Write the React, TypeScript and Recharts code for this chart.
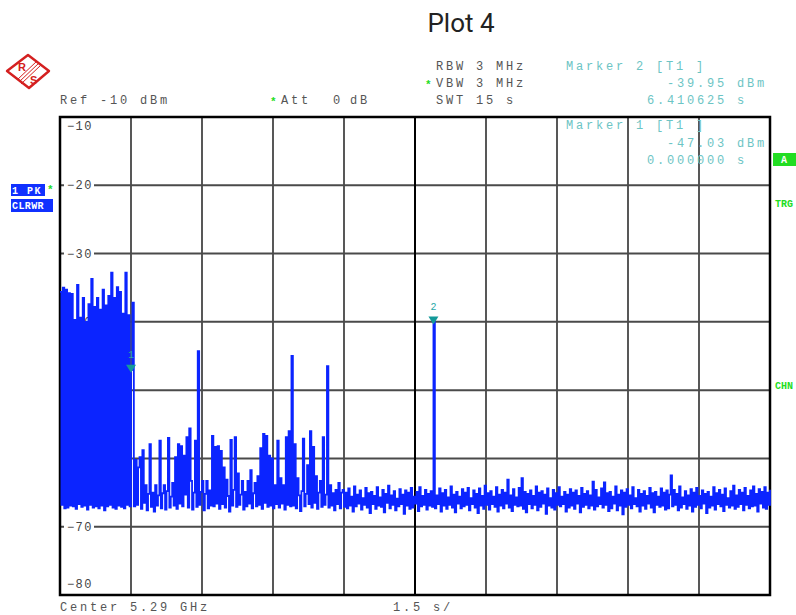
import React from "react";
import {
  ComposedChart,
  Line,
  Scatter,
  XAxis,
  YAxis,
  CartesianGrid,
  ReferenceLine,
  ReferenceArea,
} from "recharts";

// sweep: 501 points over 15 s (0.03 s per point)
const SWEEP_POINTS = 500;
const timeTicks = [0, 50, 100, 150, 200, 250, 300, 350, 400, 450, 500];
const levelTicks = [-80, -70, -60, -50, -40, -30, -20, -10];

// 0 .. 1.5 s : burst
const burstTrace = [
  -35.6, -66.8, -35.0, -67.3, -35.3, -67.2, -35.8, -66.9, -35.9, -67.0,
  -39.7, -67.4, -34.6, -66.7, -39.4, -67.1, -36.5, -66.9, -40.0, -67.5,
  -37.4, -66.8, -33.7, -67.2, -37.8, -67.0, -36.5, -67.3, -38.2, -66.9,
  -35.3, -67.6, -37.6, -67.0, -36.2, -66.8, -32.8, -67.2, -36.5, -67.4,
  -34.9, -66.9, -35.6, -67.1, -38.8, -67.3, -32.8, -66.8, -39.0, -67.0,
  -47.03, -37.2,
];

// 1.56 .. 6 s : spurs
const spurTrace = [
  -67.0, -60.2, -66.8, -61.3, -59.8, -67.4, -58.8, -66.5, -63.9, -67.6,
  -65.2, -57.9, -67.1, -65.0, -67.8, -63.9, -66.9, -65.4, -57.4, -67.3,
  -65.1, -63.9, -67.5, -64.8, -57.0, -67.2, -65.6, -63.6, -66.9, -59.8,
  -67.4, -57.9, -66.6, -58.2, -67.0, -59.6, -65.3, -56.9, -67.2, -55.6,
  -63.3, -67.5, -65.0, -57.4, -67.1, -44.3, -66.8, -64.9, -63.3, -67.6,
  -65.2, -63.3, -67.3, -64.7, -66.9, -56.7, -67.0, -58.3, -66.6, -58.2,
  -67.4, -58.9, -66.7, -61.3, -67.2, -63.1, -65.5, -67.8, -57.3, -66.9,
  -64.6, -56.9, -67.1, -62.2, -66.8, -65.3, -63.3, -67.5, -64.9, -67.0,
  -63.3, -66.6, -61.7, -67.3, -65.1, -63.6, -67.0, -62.6, -66.8, -58.5,
  -67.4, -56.4, -66.5, -56.7, -67.1, -59.6, -66.9, -60.0, -67.3, -63.9,
  -66.7, -57.4, -67.2, -62.9, -66.6, -63.9, -67.5, -56.9, -66.8, -56.0,
  -67.0, -45.0, -66.9, -57.9, -67.3, -62.9, -65.4, -67.7, -64.8, -57.1,
  -67.0, -65.2, -61.0, -66.7, -56.0, -67.2, -58.3, -66.5, -62.6, -67.4,
  -65.0, -63.3, -67.1, -56.9, -66.8, -65.3, -46.5, -67.2, -63.9, -66.9,
  -65.1, -67.6, -64.6, -66.7, -63.6, -67.3, -65.0, -64.6, -67.1,
];

// 6.03 .. 15 s : noise floor + marker 2 line
const floorTrace = [
  -65.0, -67.3, -64.4, -66.9, -65.6, -67.8, -64.1, -67.0, -65.3, -66.6,
  -64.7, -67.5, -65.8, -66.8, -64.3, -67.2, -65.1, -68.0, -64.9, -66.7,
  -65.5, -67.4, -64.2, -66.9, -65.7, -67.1, -64.6, -67.9, -65.2, -66.5,
  -64.0, -67.3, -65.4, -66.8, -64.8, -67.6, -65.9, -67.0, -64.5, -66.7,
  -65.3, -68.1, -64.7, -66.9, -65.0, -67.4, -64.3, -67.2, -65.6, -66.6,
  -64.9, -67.7, -64.2, -67.0, -65.5, -66.8, -64.6, -67.5, -65.2, -66.9,
  -64.8, -67.1, -39.95, -67.3, -65.4, -66.7, -64.4, -67.8, -65.1, -66.9,
  -64.6, -67.4, -65.7, -66.8, -64.1, -67.2, -65.3, -67.9, -64.9, -66.6,
  -65.6, -67.3, -64.5, -67.0, -65.0, -66.8, -64.3, -67.6, -65.8, -66.7,
  -64.7, -67.2, -65.2, -68.0, -64.4, -66.9, -65.5, -67.4, -64.0, -66.8,
  -65.1, -67.5, -64.8, -66.7, -65.6, -67.1, -64.2, -67.8, -65.3, -66.9,
  -64.6, -67.3, -65.0, -66.6, -63.1, -67.2, -65.4, -67.7, -64.5, -66.8,
  -65.7, -67.0, -64.3, -66.9, -62.9, -67.4, -64.9, -67.9, -65.2, -66.7,
  -64.7, -67.3, -65.5, -66.8, -64.1, -67.6, -65.0, -67.1, -64.8, -66.6,
  -65.3, -68.1, -64.4, -66.9, -65.8, -67.2, -64.6, -67.5, -65.1, -66.8,
  -64.2, -67.0, -65.6, -66.7, -64.9, -67.8, -65.3, -67.2, -64.5, -66.9,
  -65.0, -67.4, -64.7, -66.6, -65.5, -67.9, -64.3, -67.1, -65.2, -66.8,
  -64.8, -67.3, -65.4, -66.9, -63.4, -67.5, -64.6, -67.0, -65.7, -66.7,
  -64.4, -67.2, -63.5, -66.8, -65.1, -67.7, -64.9, -67.3, -65.6, -66.6,
  -64.1, -67.6, -65.3, -66.9, -64.7, -68.2, -65.0, -67.1, -64.5, -66.8,
  -65.4, -67.3, -64.2, -66.7, -65.8, -67.0, -64.6, -67.8, -65.2, -66.9,
  -64.8, -67.4, -65.5, -66.6, -64.3, -67.2, -65.1, -67.9, -64.9, -66.8,
  -65.6, -67.1, -64.4, -66.9, -65.0, -67.5, -64.7, -67.3, -65.3, -62.5,
  -67.0, -64.6, -66.8, -65.2, -67.6, -64.1, -67.2, -65.7, -66.7, -64.8,
  -67.4, -65.4, -66.9, -64.5, -67.8, -65.0, -67.1, -64.3, -66.8, -65.5,
  -67.3, -64.7, -66.6, -65.2, -68.0, -64.9, -67.2, -65.6, -66.9, -64.2,
  -67.5, -65.1, -66.7, -64.6, -67.0, -65.3, -67.7, -64.4, -66.8, -65.8,
  -67.2, -64.8, -66.9, -64.0, -67.4, -65.4, -67.1, -64.6, -66.7, -65.0,
  -67.6, -64.3, -66.8, -65.5, -67.3, -64.7, -67.0, -64.1, -66.9, -65.2,
  -67.8, -64.5, -66.6, -64.9, -67.2, -64.2, -67.4, -65.0, -66.8, -64.6,
];

const markerIndex = [50, 263];
const markerLevel = [-47.03, -39.95];
const markerName = ["1", "2"];

const trace = [...burstTrace, ...spurTrace, ...floorTrace].map((dbm, i) => ({ i, dbm }));
const markers = markerIndex.map((i, k) => ({ i, dbm: markerLevel[k], name: markerName[k] }));

const MONO = "'Liberation Mono', 'DejaVu Sans Mono', monospace";
const GRAY = "#555";
const TEAL = "#6cc4c4";
const GREEN = "#22dd22";
const BLUE = "#0b24ff";
const CHART_MARGIN = { top: 117, right: 26, bottom: 20, left: 60 };

// level label drawn on its grid line, inside the frame
const LevelLabel = ({ viewBox, value }: any) => {
  if (!viewBox) return null;
  const { x, y } = viewBox;
  const dy = value === -10 ? 9 : value === -80 ? -11 : 0;
  return (
    <g>
      {value !== -10 && value !== -80 && <rect x={x + 4} y={y + dy - 6} width={30} height={12} fill="#fff" />}
      <text x={x + 7} y={y + dy + 4} fontFamily={MONO} fontSize={12} letterSpacing={1.4} fill="#444">
        {String(value).replace("-", "\u2212")}
      </text>
    </g>
  );
};

const MarkerShape = (props: any) => {
  const { cx, cy, payload } = props;
  return (
    <g>
      <polygon points={`${cx - 5},${cy - 5} ${cx + 5},${cy - 5} ${cx},${cy + 3}`} fill="#139a9a" />
      <text x={cx} y={cy - 12} textAnchor="middle" fontFamily={MONO} fontSize={10} fill="#2aa8a8">
        {payload.name}
      </text>
    </g>
  );
};

const T = ({ x, y, c = GRAY, children }: any) => (
  <text x={x} y={y} fontFamily={MONO} fontSize={12} letterSpacing={2.8} fill={c} style={{ whiteSpace: "pre" }}>
    {children}
  </text>
);

const Star = ({ x, y }: any) => (
  <text x={x} y={y} fontFamily={MONO} fontSize={11} fontWeight="bold" fill={GREEN}>
    *
  </text>
);

const layer: React.CSSProperties = { position: "absolute", left: 0, top: 0 };

export default function App() {
  return (
    <div style={{ position: "absolute", left: 0, top: 0, width: 796, height: 615, background: "#fff" }}>
      {/* graticule + level labels (under the trace) */}
      <div style={layer}>
        <ComposedChart width={796} height={615} data={trace} margin={CHART_MARGIN}>
          <CartesianGrid horizontal={false} vertical stroke="#111" strokeWidth={1.4} />
          <CartesianGrid horizontal vertical={false} stroke="#4a4a4a" strokeWidth={2} />
          <XAxis dataKey="i" type="number" domain={[0, SWEEP_POINTS]} ticks={timeTicks} hide />
          <YAxis dataKey="dbm" type="number" domain={[-80, -10]} ticks={levelTicks} hide />
          {/* invisible copy of the trace keeps the level axis active on this layer */}
          <Line dataKey="dbm" stroke="none" dot={false} activeDot={false} isAnimationActive={false} />
          <ReferenceLine x={250} stroke="#000" strokeWidth={2} />
          {levelTicks.map((v) => (
            <ReferenceLine key={v} y={v} stroke="none" label={<LevelLabel value={v} />} />
          ))}
        </ComposedChart>
      </div>

      {/* trace, markers, frame */}
      <div style={layer}>
        <ComposedChart width={796} height={615} data={trace} margin={CHART_MARGIN}>
          <XAxis dataKey="i" type="number" domain={[0, SWEEP_POINTS]} ticks={timeTicks} hide />
          <YAxis dataKey="dbm" type="number" domain={[-80, -10]} ticks={levelTicks} hide />
          <Line
            type="stepAfter"
            dataKey="dbm"
            stroke={BLUE}
            strokeWidth={1.8}
            dot={false}
            isAnimationActive={false}
          />
          <Scatter data={markers} dataKey="dbm" shape={<MarkerShape />} isAnimationActive={false} />
          <ReferenceArea x1={0} x2={SWEEP_POINTS} y1={-80} y2={-10} fill="none" stroke="#000" strokeWidth={2.5} />
        </ComposedChart>
      </div>

      <svg width={796} height={615} style={{ ...layer, pointerEvents: "none" }}>
        <text x={461} y={32} textAnchor="middle" fontFamily="Roboto, 'Noto Sans', sans-serif" fontSize={26} fill="#222">
          Plot 4
        </text>

        {/* R&S logo */}
        <g>
          <polygon points="28,55 49,71 29,88 7,71" fill="none" stroke="#d42020" strokeWidth={2.4} strokeLinejoin="round" />
          <line x1={17} y1={80} x2={37} y2={61} stroke="#d42020" strokeWidth={1} />
          <line x1={19} y1={82} x2={39} y2={63} stroke="#d42020" strokeWidth={1} />
          <line x1={21} y1={84} x2={41} y2={65} stroke="#d42020" strokeWidth={1} />
          <text x={18} y={71} fontFamily="'Liberation Sans', sans-serif" fontSize={11} fontWeight="bold" fill="#d42020">R</text>
          <text x={30} y={84} fontFamily="'Liberation Sans', sans-serif" fontSize={11} fontWeight="bold" fill="#d42020">S</text>
        </g>

        <T x={60} y={104}>Ref -10 dBm</T>
        <Star x={270} y={105} />
        <T x={281} y={104}>Att</T>
        <T x={333} y={104}>0</T>
        <T x={350} y={104}>dB</T>

        <T x={436} y={70}>RBW 3 MHz</T>
        <Star x={425} y={88} />
        <T x={436} y={87}>VBW 3 MHz</T>
        <T x={436} y={104}>SWT 15 s</T>

        <T x={566} y={70} c={TEAL}>Marker 2 [T1 ]</T>
        <T x={667} y={87} c={TEAL}>-39.95 dBm</T>
        <T x={647} y={104} c={TEAL}>6.410625 s</T>
        <T x={566} y={129} c={TEAL}>Marker 1 [T1 ]</T>
        <T x={667} y={147} c={TEAL}>-47.03 dBm</T>
        <T x={647} y={164} c={TEAL}>0.000000 s</T>

        {/* left trace info */}
        <rect x={11} y={184} width={34} height={12} fill="#1030ff" />
        <text x={12} y={194} fontFamily={MONO} fontSize={10} fontWeight="bold" letterSpacing={1.5} fill="#fff">1 PK</text>
        <Star x={47} y={193} />
        <rect x={11} y={199} width={42} height={13} fill="#1030ff" />
        <text x={12} y={209} fontFamily={MONO} fontSize={10} fontWeight="bold" letterSpacing={0.4} fill="#fff">CLRWR</text>

        {/* right side flags */}
        <rect x={773} y={153} width={24} height={13} fill={GREEN} />
        <text x={781} y={163} fontFamily={MONO} fontSize={10} fontWeight="bold" fill="#fff">A</text>
        <text x={775} y={207} fontFamily={MONO} fontSize={10} fontWeight="bold" fill={GREEN}>TRG</text>
        <text x={775} y={389} fontFamily={MONO} fontSize={10} fontWeight="bold" fill={GREEN}>CHN</text>

        <T x={60} y={611}>Center 5.29 GHz</T>
        <T x={393} y={611}>1.5 s/</T>
      </svg>
    </div>
  );
}
